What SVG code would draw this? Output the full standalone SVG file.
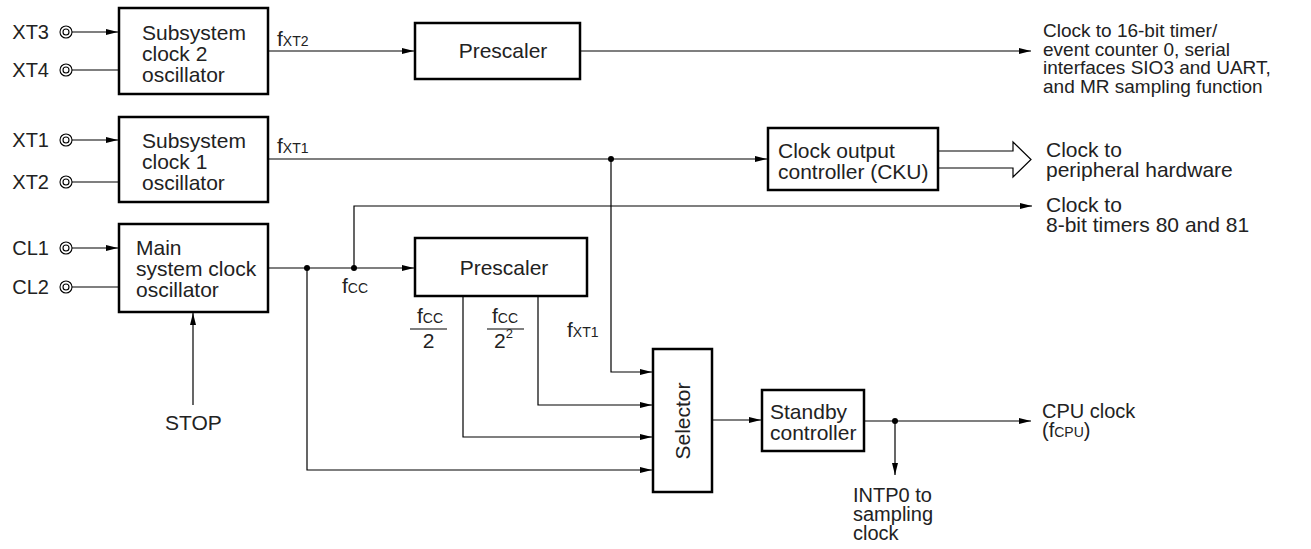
<svg xmlns="http://www.w3.org/2000/svg" width="1311" height="549" viewBox="0 0 1311 549">
<style>
text{font-family:"Liberation Sans",Arial,sans-serif;font-size:21px;fill:#222}
.sm{font-size:19px}
.md{font-size:20px}
.pinl{font-size:20px}
.sub{font-size:14px}
.box{fill:#fff;stroke:#000;stroke-width:2.5}
.ln{fill:none;stroke:#000;stroke-width:1.2}
.arr{fill:none;stroke:#000;stroke-width:1.2;marker-end:url(#ah)}
.pin{fill:none;stroke:#000;stroke-width:1.1}
.dot{fill:#000}
</style>
<defs>
<marker id="ah" markerUnits="userSpaceOnUse" markerWidth="12" markerHeight="6" refX="12" refY="3" orient="auto">
<path d="M0,0 L12,3 L0,6 z" fill="#000"/>
</marker>
</defs>
<rect width="1311" height="549" fill="#fff"/>

<g id="pins">
<g id="xt3"><text class="pinl" x="49" y="39" text-anchor="end">XT3</text><circle class="pin" cx="66" cy="32" r="6"/><circle class="pin" cx="66" cy="32" r="3"/></g>
<g id="xt4"><text class="pinl" x="49" y="77" text-anchor="end">XT4</text><circle class="pin" cx="66" cy="70" r="6"/><circle class="pin" cx="66" cy="70" r="3"/></g>
<g id="xt1"><text class="pinl" x="49" y="147" text-anchor="end">XT1</text><circle class="pin" cx="66" cy="140" r="6"/><circle class="pin" cx="66" cy="140" r="3"/></g>
<g id="xt2"><text class="pinl" x="49" y="189" text-anchor="end">XT2</text><circle class="pin" cx="66" cy="182" r="6"/><circle class="pin" cx="66" cy="182" r="3"/></g>
<g id="cl1"><text class="pinl" x="49" y="255" text-anchor="end">CL1</text><circle class="pin" cx="66" cy="248" r="6"/><circle class="pin" cx="66" cy="248" r="3"/></g>
<g id="cl2"><text class="pinl" x="49" y="294" text-anchor="end">CL2</text><circle class="pin" cx="66" cy="287" r="6"/><circle class="pin" cx="66" cy="287" r="3"/></g>
</g>

<g id="connectors">
<line class="arr" x1="72" y1="32" x2="118" y2="32"/>
<line class="ln" x1="72" y1="70" x2="118" y2="70"/>
<line class="arr" x1="72" y1="140" x2="118" y2="140"/>
<line class="ln" x1="72" y1="182" x2="118" y2="182"/>
<line class="arr" x1="72" y1="248" x2="118" y2="248"/>
<line class="ln" x1="72" y1="287" x2="118" y2="287"/>
<line class="arr" x1="269" y1="51" x2="414" y2="51"/>
<line class="arr" x1="581" y1="51" x2="1031" y2="51"/>
<line class="arr" x1="269" y1="159" x2="767" y2="159"/>
<polyline class="arr" points="611,159 611,372 652,372"/>
<line class="arr" x1="269" y1="268" x2="414" y2="268"/>
<polyline class="arr" points="354,268 354,206 1032,206"/>
<polyline class="arr" points="307,268 307,470 652,470"/>
<polyline class="arr" points="463,297 463,437 652,437"/>
<polyline class="arr" points="538,297 538,405 652,405"/>
<line class="arr" x1="713" y1="420" x2="761" y2="420"/>
<line class="arr" x1="865" y1="421" x2="1031" y2="421"/>
<line class="arr" x1="895" y1="421" x2="895" y2="475"/>
<line class="arr" x1="193" y1="405" x2="193" y2="313"/>
<polyline class="ln" points="939,151 1013,151 1013,142 1031,159.5 1013,177 1013,168 939,168"/>
<circle class="dot" cx="611" cy="159" r="3"/>
<circle class="dot" cx="307" cy="268" r="3"/>
<circle class="dot" cx="354" cy="268" r="3"/>
<circle class="dot" cx="895" cy="421" r="3"/>
</g>

<g id="sub2">
<rect class="box" x="119" y="8" width="149" height="86"/>
<text x="142" y="40">Subsystem</text><text x="142" y="61">clock 2</text><text x="142" y="82">oscillator</text>
</g>
<g id="sub1">
<rect class="box" x="119" y="117" width="149" height="85"/>
<text x="142" y="148">Subsystem</text><text x="142" y="169">clock 1</text><text x="142" y="190">oscillator</text>
</g>
<g id="main">
<rect class="box" x="119" y="224" width="149" height="88"/>
<text x="136" y="255">Main</text><text x="136" y="276">system clock</text><text x="136" y="297">oscillator</text>
</g>
<g id="prescaler1">
<rect class="box" x="415" y="23" width="165" height="56"/>
<text x="503" y="58" text-anchor="middle">Prescaler</text>
</g>
<g id="prescaler2">
<rect class="box" x="415" y="238" width="172" height="58"/>
<text x="504" y="275" text-anchor="middle">Prescaler</text>
</g>
<g id="cku">
<rect class="box" x="768" y="128" width="170" height="62"/>
<text x="778" y="158">Clock output</text><text x="778" y="179">controller (CKU)</text>
</g>
<g id="selector">
<rect class="box" x="653" y="349" width="59" height="143"/>
<text transform="translate(690,421) rotate(-90)" text-anchor="middle">Selector</text>
</g>
<g id="standby">
<rect class="box" x="762" y="390" width="102" height="61"/>
<text x="770" y="419">Standby</text><text x="770" y="440">controller</text>
</g>

<g id="labels">
<text x="277" y="46">f<tspan class="sub">XT2</tspan></text>
<text x="277" y="153">f<tspan class="sub">XT1</tspan></text>
<text x="342" y="293">f<tspan class="sub">CC</tspan></text>
<text x="417" y="323">f<tspan class="sub">CC</tspan></text>
<line class="ln" x1="410" y1="329" x2="447" y2="329"/>
<text x="428.5" y="348" text-anchor="middle">2</text>
<text x="492" y="323">f<tspan class="sub">CC</tspan></text>
<line class="ln" x1="487" y1="329" x2="524" y2="329"/>
<text x="494" y="348">2<tspan font-size="13" dy="-10">2</tspan></text>
<text x="567" y="337">f<tspan class="sub">XT1</tspan></text>
<text x="165" y="430">STOP</text>
<text class="sm" x="1043" y="37">Clock to 16-bit timer/</text>
<text class="sm" x="1043" y="55.5">event counter 0, serial</text>
<text class="sm" x="1043" y="74">interfaces SIO3 and UART,</text>
<text class="sm" x="1043" y="92.5">and MR sampling function</text>
<text x="1046" y="157">Clock to</text>
<text x="1046" y="177">peripheral hardware</text>
<text x="1046" y="212">Clock to</text>
<text x="1046" y="232">8-bit timers 80 and 81</text>
<text class="md" x="1042" y="418">CPU clock</text>
<text class="md" x="1042" y="437">(f<tspan class="sub">CPU</tspan>)</text>
<text class="md" x="853" y="502">INTP0 to</text>
<text class="md" x="853" y="521">sampling</text>
<text class="md" x="853" y="540">clock</text>
</g>
</svg>
